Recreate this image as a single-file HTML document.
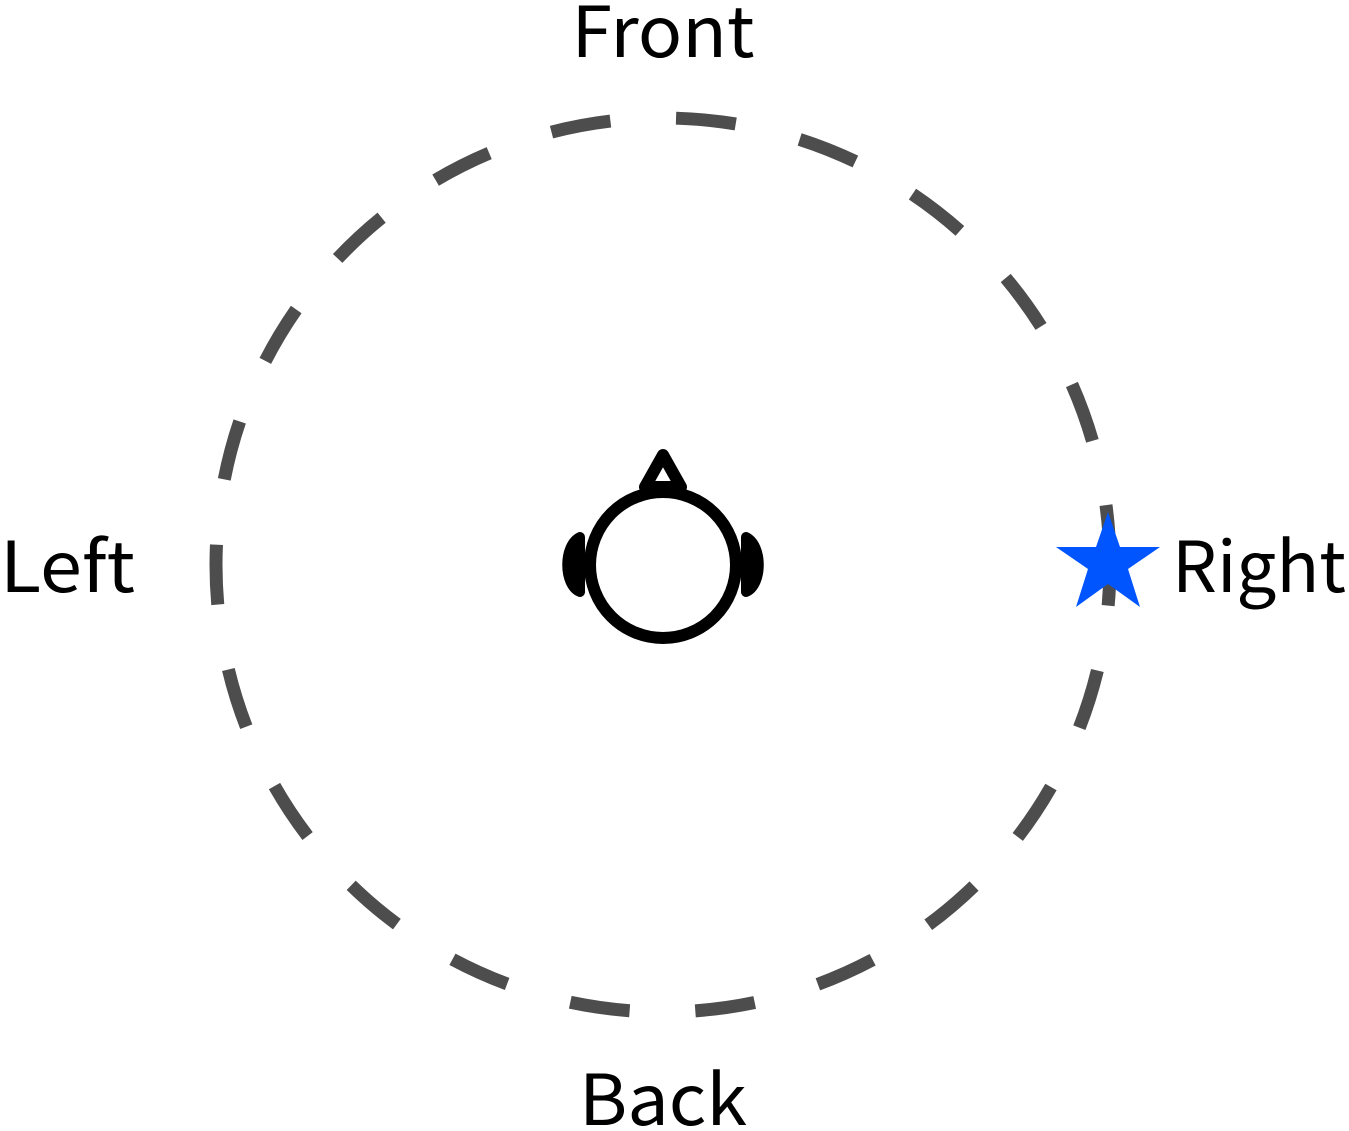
<!DOCTYPE html>
<html><head><meta charset="utf-8"><style>
html,body{margin:0;padding:0;background:#fff;}
svg{display:block;}
text{font-family:"Noto Sans CJK JP","Liberation Sans",sans-serif;font-size:70px;fill:#000;}
</style></head><body>
<svg width="1349" height="1131" viewBox="0 0 1349 1131">
<path d="M1110,565 A447,447 0 1,0 663,1012 A447,447 0 0,0 1110,565" fill="none" stroke="#4d4d4d" stroke-width="13" stroke-dasharray="60 65.8"/>
<g>
<path d="M663,455 L645,487 L681,487 Z" fill="none" stroke="#000" stroke-width="12" stroke-linejoin="round"/>
<path d="M580,537 C563,545 563,585 580,592 Z" fill="#000" stroke="#000" stroke-width="10" stroke-linejoin="round"/>
<path d="M746,537 C763,545 763,585 746,592 Z" fill="#000" stroke="#000" stroke-width="10" stroke-linejoin="round"/>
<circle cx="663" cy="565" r="73" fill="#fff" stroke="#000" stroke-width="12"/>
</g>
<polygon fill="#0055ff" points="1108,512 1120,547 1160,547 1128,569 1140,607 1108,584 1076,607 1088,569 1056,547 1096,547"/>
<text x="663" y="57" text-anchor="middle" textLength="183" lengthAdjust="spacingAndGlyphs">Front</text>
<text x="663" y="1125" text-anchor="middle" textLength="168" lengthAdjust="spacingAndGlyphs">Back</text>
<text x="0" y="592" textLength="135" lengthAdjust="spacingAndGlyphs">Left</text>
<text x="1172" y="592" textLength="174" lengthAdjust="spacingAndGlyphs">Right</text>
</svg>
</body></html>
